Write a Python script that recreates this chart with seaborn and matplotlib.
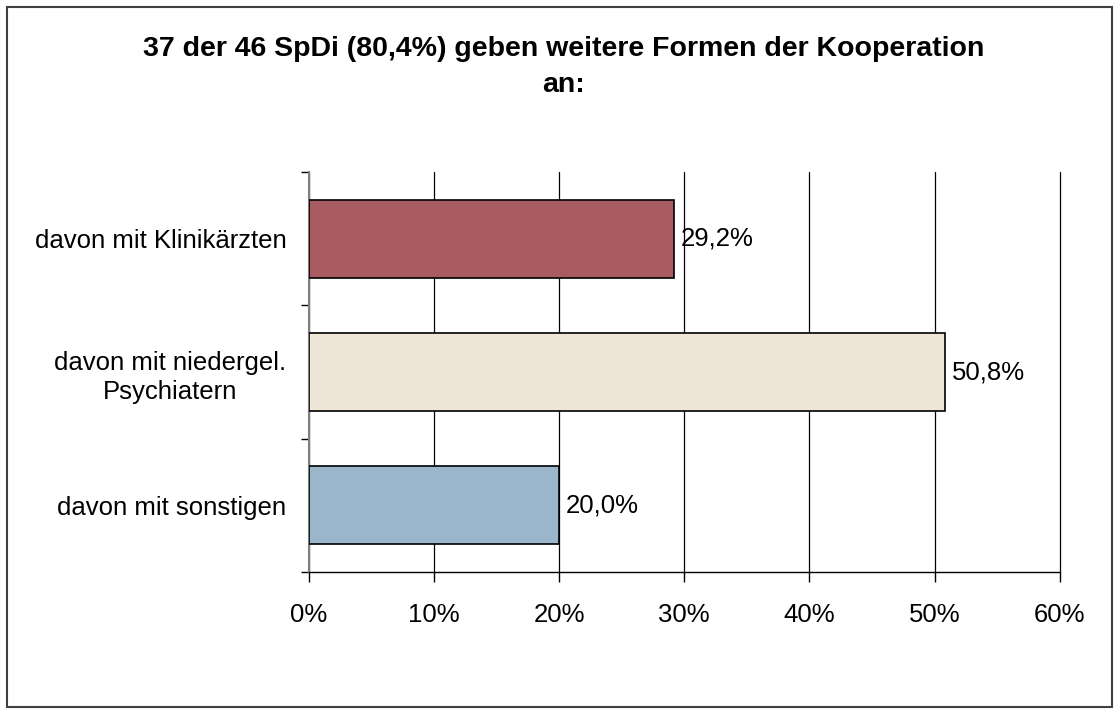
import pandas as pd
import matplotlib.pyplot as plt
import seaborn as sns
from matplotlib.patches import Rectangle
from matplotlib.ticker import FuncFormatter, MultipleLocator

sns.set_theme(style="white")
plt.rcParams['font.family'] = ['Liberation Sans', 'DejaVu Sans']

# data
categories = ["davon mit Klinikärzten", "davon mit niedergel.\nPsychiatern", "davon mit sonstigen"]
values = [29.2, 50.8, 20.0]
bar_colors = ["#A85C62", "#EFE6D8", "#9BB5CB"]
title = "37 der 46 SpDi (80,4%) geben weitere Formen der Kooperation\nan:"

df = pd.DataFrame({"Kategorie": categories, "Anteil": values})

fig = plt.figure(figsize=(11.19, 7.11), dpi=100)
ax = fig.add_axes([0.276, 0.1955, 0.671, 0.5625])

sns.barplot(data=df, x="Anteil", y="Kategorie", hue="Kategorie", palette=bar_colors,
            saturation=1, legend=False, width=0.585, edgecolor="black", linewidth=1.2,
            ax=ax, zorder=3)

ax.set_xlim(0, 60)
ax.set_ylim(2.5, -0.5)
ax.xaxis.set_major_locator(MultipleLocator(10))
ax.xaxis.set_major_formatter(FuncFormatter(lambda v, p: f"{v:.0f}%"))
ax.grid(axis='x', color='black', linewidth=0.9, zorder=0)
ax.grid(axis='y', visible=False)
for gl in ax.get_xgridlines():
    gl.set_clip_on(False)

# category boundary ticks on the left axis
ax.set_yticks([0, 1, 2])
ax.set_yticks([-0.5, 0.5, 1.5, 2.5], minor=True)
ax.tick_params(axis='y', which='major', length=0, labelsize=18.5, pad=16, colors='black')
ax.tick_params(axis='y', which='minor', length=6, width=1, color='black', left=True)
ax.tick_params(axis='x', length=7, width=1, color='black', labelsize=18.5, pad=15, bottom=True, colors='black')
ax.set_xlabel("")
ax.set_ylabel("")
for lbl in ax.get_yticklabels():
    lbl.set_multialignment('center')
    lbl.set_linespacing(1.3)

for s in ['top', 'right']:
    ax.spines[s].set_visible(False)
ax.spines['left'].set_color('#808080')
ax.spines['left'].set_linewidth(1.5)
ax.spines['bottom'].set_color('black')
ax.spines['bottom'].set_linewidth(1)

# value labels
for i, v in enumerate(values):
    ax.text(v + 0.55, i, f"{v:.1f}%".replace(".", ","), va='center', ha='left', fontsize=18.5, color='black')

fig.text(0.504, 0.906, title, ha='center', va='center', fontsize=20.5, fontweight='bold',
         linespacing=1.5, color='black')

fig.patches.append(Rectangle((0.006, 0.006), 0.988, 0.984, transform=fig.transFigure,
                             fill=False, edgecolor='#404040', linewidth=1.5))

fig.savefig("out.png", dpi=100, facecolor='white')
